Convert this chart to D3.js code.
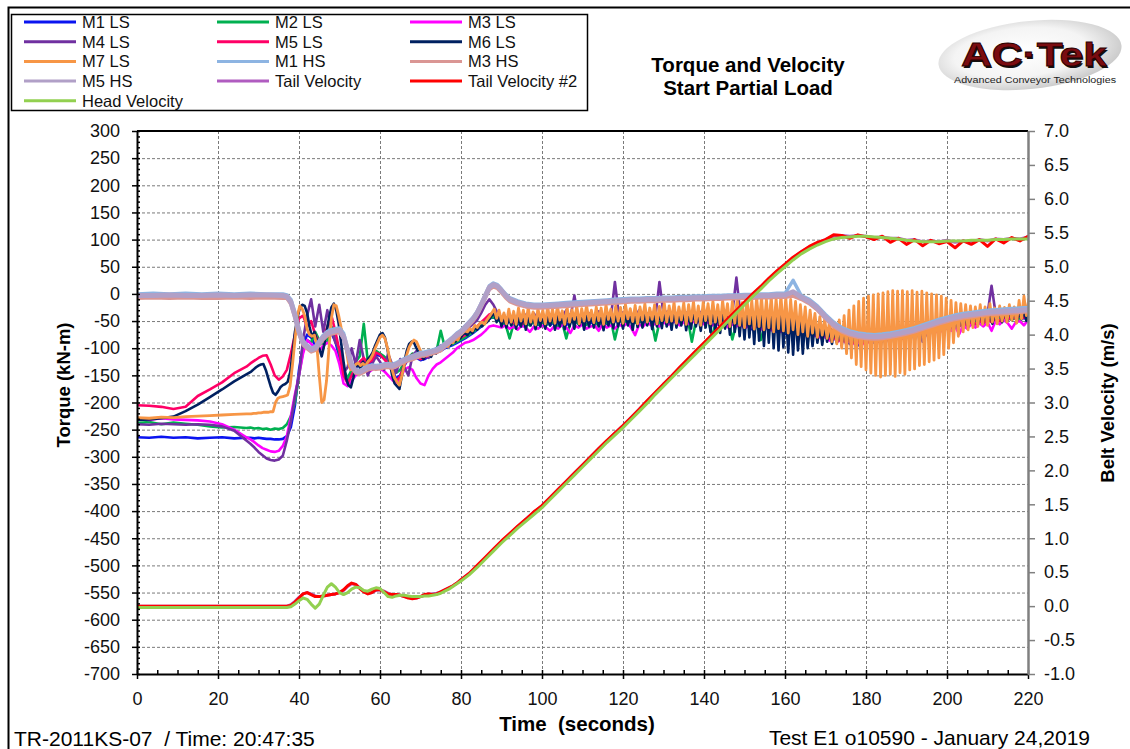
<!DOCTYPE html>
<html>
<head>
<meta charset="utf-8">
<script src="https://cdn.jsdelivr.net/npm/d3@7"></script>
<style>
  body { margin: 0; background: #fff; }
  svg { display: block; font-family: "Liberation Sans", Arial, sans-serif; }
</style>
</head>
<body>
<script>
// ---------- time bases (seconds) ----------
const tPre = [0, 3, 6, 9, 12, 15, 18, 21, 24, 27]
const tLS = tPre.concat(d3.range(28, 220.1, 1))
const tFast = tPre.concat(d3.range(28.2, 220.21, 0.6))
const tHS = [0, 4, 8, 12, 16, 20, 24, 28, 32, 36].concat(d3.range(37, 92, 1), d3.range(92, 220.1, 2))
const tVel = [0, 10, 20, 30, 36].concat(d3.range(37, 80, 1), d3.range(80, 220.1, 2))

// ---------- torque, low speed shafts (kN-m) ----------
const m1LS = [-264,-265,-263,-265,-264,-266,-265,-264,-266,-265,
  -265,-266,-265,-266,-267,-267,-268,-268,-267,-262,
  -245,-205,-140,-95,-75,-80,-95,-90,-85,-80,
  -72,-88,-118,-148,-160,-150,-136,-128,-122,-130,
  -126,-112,-114,-118,-126,-140,-156,-150,-132,-120,
  -116,-118,-122,-120,-115,-110,-108,-105,-100,-97,
  -94,-90,-86,-82,-77,-72,-66,-60,-52,-46,
  -42,-46,-52,-56,-50,-58,-54,-60,-52,-57,
  -50,-57,-53,-49,-58,-51,-55,-48,-57,-52,
  -47,-55,-50,-46,-54,-49,-52,-45,-55,-48,
  -51,-44,-53,-47,-50,-43,-52,-46,-49,-42,
  -51,-45,-48,-42,-50,-44,-47,-41,-50,-45,
  -47,-42,-52,-46,-50,-44,-55,-48,-56,-50,
  -58,-52,-62,-55,-66,-58,-64,-55,-68,-60,
  -70,-62,-74,-65,-72,-62,-70,-66,-72,-70,
  -75,-72,-80,-76,-84,-78,-88,-82,-92,-85,
  -95,-86,-92,-84,-90,-80,-88,-78,-85,-76,
  -82,-74,-80,-70,-76,-68,-88,-72,-66,-70,
  -62,-66,-58,-62,-55,-60,-52,-57,-50,-55,
  -48,-53,-46,-50,-44,-49,-43,-48,-42,-46,
  -41,-45,-40]

const m2LS = [-238,-236,-240,-237,-239,-241,-244,-246,-245,-247,
  -246,-248,-247,-249,-248,-250,-248,-249,-247,-240,
  -225,-200,-150,-105,-85,-90,-70,-85,-95,-88,
  -60,-80,-110,-140,-155,-140,-125,-115,-55,-125,
  -120,-105,-110,-115,-122,-135,-145,-140,-125,-118,
  -110,-112,-118,-116,-110,-106,-104,-68,-98,-95,
  -92,-88,-84,-80,-75,-70,-64,-58,-50,-45,
  -42,-48,-52,-56,-82,-55,-50,-57,-52,-58,
  -50,-56,-52,-58,-49,-55,-60,-53,-82,-52,
  -48,-55,-50,-57,-47,-53,-58,-50,-54,-48,
  -84,-52,-46,-55,-49,-53,-47,-56,-50,-48,
  -86,-52,-47,-55,-49,-44,-53,-48,-46,-88,
  -50,-45,-53,-47,-78,-50,-46,-52,-48,-84,
  -55,-50,-58,-53,-60,-55,-85,-58,-62,-56,
  -66,-60,-70,-64,-68,-62,-72,-66,-70,-68,
  -74,-70,-78,-74,-82,-76,-86,-80,-88,-84,
  -90,-84,-88,-82,-86,-80,-84,-78,-82,-76,
  -80,-74,-76,-70,-74,-66,-70,-64,-66,-62,
  -64,-60,-62,-56,-60,-54,-58,-52,-56,-50,
  -54,-48,-52,-47,-50,-45,-49,-44,-48,-43,
  -46,-42,-44]

const m3LS = [-230,-232,-229,-231,-232,-233,-235,-240,-250,-264,
  -268,-273,-279,-284,-287,-290,-291,-289,-280,-262,
  -225,-185,-150,-110,-85,-92,-100,-105,-95,-90,
  -95,-105,-130,-165,-170,-160,-150,-145,-140,-145,
  -140,-135,-138,-142,-150,-158,-165,-155,-140,-135,
  -140,-155,-165,-168,-150,-138,-130,-126,-120,-114,
  -108,-100,-95,-90,-88,-85,-80,-75,-68,-60,
  -58,-60,-62,-58,-64,-60,-66,-58,-62,-70,
  -60,-64,-58,-62,-68,-60,-64,-57,-62,-72,
  -58,-62,-56,-64,-60,-58,-68,-55,-62,-58,
  -64,-56,-60,-54,-62,-76,-56,-60,-52,-58,
  -55,-60,-52,-57,-54,-50,-58,-52,-56,-50,
  -54,-49,-56,-52,-58,-54,-60,-55,-62,-56,
  -60,-55,-64,-58,-62,-56,-66,-60,-64,-68,
  -62,-70,-66,-72,-68,-74,-70,-76,-72,-78,
  -76,-82,-78,-86,-80,-88,-84,-90,-86,-92,
  -88,-94,-86,-90,-84,-88,-82,-86,-78,-84,
  -76,-82,-74,-78,-70,-76,-68,-74,-66,-72,
  -64,-70,-62,-68,-60,-74,-58,-64,-56,-62,
  -54,-60,-52,-68,-50,-56,-48,-54,-64,-52,
  -50,-58,-48]

const m4LS = [-240,-241,-239,-240,-241,-240,-241,-244,-252,-270,
  -276,-283,-291,-297,-303,-306,-307,-305,-298,-270,
  -235,-190,-150,-85,-40,-10,-60,-20,-70,-30,
  -65,-90,-100,-145,-135,-100,-130,-85,-120,-150,
  -130,-115,-125,-140,-110,-130,-145,-120,-135,-150,
  -115,-105,-120,-110,-118,-105,-100,-95,-98,-90,
  -85,-80,-75,-70,-62,-55,-48,-35,-20,-10,
  -20,-35,-45,-50,-42,-48,-40,-46,-38,-44,
  -36,-48,-40,-45,-38,-46,-34,-42,-30,-44,
  -3,-46,-36,-42,-35,-45,-32,-40,-38,-44,
  22,-40,-34,-44,-36,-42,-30,-40,-36,-35,
  -42,22,-38,-32,-44,-35,-40,-30,-38,-34,
  -40,-33,-38,-28,-42,-34,-36,-30,-40,-35,
  30,-38,-42,-34,-46,-40,-36,-44,-38,-42,
  -45,-40,-48,-44,-52,-46,-56,-50,-60,-55,
  -62,-58,-66,-62,-70,-66,-74,-70,-78,-72,
  -80,-74,-78,-72,-76,-70,-74,-68,-72,-64,
  -68,-60,-64,-58,-62,-55,-58,-52,-56,-50,
  -54,-48,-52,-46,-50,-44,-45,-46,-42,-48,
  -40,-46,-38,15,-36,-42,-35,-40,-34,-38,
  -32,-36,-30]

const m5LS = [-205,-206,-208,-212,-208,-188,-176,-163,-146,-134,
  -128,-123,-118,-114,-113,-130,-150,-158,-152,-140,
  -110,-75,-45,-40,-60,-50,-75,-90,-85,-60,
  -40,-70,-105,-150,-165,-150,-135,-125,-118,-128,
  -122,-108,-112,-120,-128,-142,-160,-152,-130,-118,
  -112,-115,-120,-118,-112,-108,-104,-100,-96,-92,
  -88,-84,-80,-76,-70,-65,-60,-52,-45,-38,
  -35,-40,-48,-52,-46,-54,-48,-56,-46,-52,
  -44,-50,-46,-53,-44,-50,-42,-49,-45,-52,
  -42,-48,-44,-50,-41,-47,-43,-50,-40,-46,
  -42,-48,-40,-46,-39,-45,-42,-48,-38,-44,
  -40,-46,-38,-44,-37,-43,-40,-46,-36,-42,
  -38,-44,-36,-42,-40,-46,-38,-48,-42,-50,
  -46,-54,-48,-58,-52,-60,-55,-64,-58,-66,
  -62,-68,-64,-70,-66,-72,-68,-74,-70,-76,
  -72,-78,-76,-82,-80,-86,-82,-88,-84,-90,
  -86,-92,-84,-90,-82,-88,-80,-86,-78,-84,
  -76,-82,-72,-78,-68,-74,-66,-72,-62,-68,
  -60,-65,-57,-62,-54,-60,-52,-58,-50,-56,
  -48,-54,-46,-52,-44,-50,-42,-48,-40,-46,
  -40,-44,-38]

// M6 / M7 sampled every 0.6 s after 28 s
const m6LS = [-232,-231,-229,-226,-216,-204,-190,-176,-161,-148,
  -143,-139,-135,-132,-130,-129,-140,-155,-170,-182,
  -186,-180,-172,-168,-166,-162,-145,-110,-70,-45,
  -25,-20,-22,-35,-60,-80,-70,-85,-100,-115,
  -95,-70,-45,-25,-18,-30,-55,-90,-125,-155,
  -168,-172,-155,-135,-130,-138,-125,-135,-120,-115,
  -108,-95,-85,-75,-72,-80,-100,-125,-150,-165,
  -170,-175,-150,-125,-105,-92,-88,-90,-100,-108,
  -115,-120,-112,-108,-116,-106,-110,-100,-104,-96,
  -98,-92,-94,-86,-88,-80,-82,-75,-72,-76,
  -68,-72,-62,-66,-58,-60,-55,-52,-46,-40,
  -35,-52,-40,-60,-38,-62,-42,-58,-36,-64,
  -40,-60,-35,-66,-42,-58,-37,-65,-40,-60,
  -36,-64,-42,-58,-34,-66,-40,-60,-38,-65,
  -35,-60,-40,-64,-33,-58,-41,-66,-36,-60,
  -38,-62,-34,-60,-40,-67,-35,-58,-39,-63,
  -33,-60,-38,-64,-32,-58,-40,-66,-35,-61,
  -30,-62,-36,-58,-32,-65,-38,-60,-31,-63,
  -28,-60,-34,-66,-30,-62,-36,-58,-29,-67,
  -32,-64,-27,-60,-35,-68,-30,-62,-28,-70,
  -25,-66,-32,-72,-26,-64,-30,-75,-24,-70,
  -22,-78,-28,-84,-20,-80,-26,-92,-18,-86,
  -20,-96,-25,-90,-18,-100,-24,-104,-22,-98,
  -28,-108,-30,-112,-35,-104,-40,-110,-45,-100,
  -48,-96,-52,-90,-55,-94,-58,-88,-62,-92,
  -64,-90,-62,-95,-60,-98,-58,-100,-56,-102,
  -55,-104,-54,-100,-56,-102,-58,-98,-55,-100,
  -57,-96,-56,-98,-60,-94,-58,-96,-62,-92,
  -60,-90,-62,-88,-58,-86,-60,-84,-56,-82,
  -54,-80,-52,-76,-50,-74,-48,-70,-46,-68,
  -44,-66,-42,-62,-40,-60,-38,-58,-36,-56,
  -34,-54,-36,-52,-32,-55,-34,-50,-30,-52,
  -32,-50,-30,-48,-28,-52,-31,-47,-29,-50,
  -30]

const m7LS = [-228,-229,-227,-228,-226,-225,-224,-223,-222,-221,
  -221,-220,-220,-219,-219,-218,-218,-218,-217,-217,
  -200,-192,-190,-189,-188,-186,-170,-130,-85,-40,
  -22,-28,-40,-65,-75,-78,-76,-95,-150,-200,
  -195,-160,-100,-45,-20,-22,-40,-62,-80,-100,
  -128,-140,-136,-130,-127,-132,-128,-133,-125,-120,
  -112,-100,-90,-80,-76,-82,-98,-120,-140,-155,
  -162,-168,-150,-130,-112,-98,-90,-85,-88,-98,
  -108,-115,-110,-105,-112,-104,-108,-102,-105,-98,
  -94,-97,-88,-90,-82,-85,-76,-72,-68,-70,
  -64,-68,-58,-62,-55,-52,-56,-48,-42,-35,
  -28,-45,-30,-50,-35,-55,-28,-52,-32,-56,
  -26,-50,-30,-55,-25,-52,-33,-57,-27,-49,
  -30,-55,-24,-50,-28,-54,-22,-48,-31,-56,
  -25,-52,-29,-47,-23,-55,-27,-50,-21,-48,
  -30,-53,-24,-49,-26,-56,-20,-47,-28,-52,
  -22,-50,-25,-54,-19,-46,-27,-51,-21,-55,
  -24,-48,-18,-52,-26,-47,-20,-55,-23,-49,
  -17,-52,-22,-50,-15,-54,-24,-48,-16,-56,
  -20,-50,-14,-53,-22,-58,-15,-49,-18,-55,
  -13,-52,-20,-57,-12,-50,-18,-60,-14,-54,
  -10,-58,-16,-62,-8,-55,-12,-65,-6,-60,
  -5,-66,-10,-62,-4,-70,-8,-64,-2,-68,
  -6,-72,-10,-66,-14,-75,-20,-70,-24,-78,
  -30,-72,-36,-80,-42,-76,-46,-82,-50,-88,
  -52,-92,-48,-100,-40,-110,-30,-118,-22,-130,
  -14,-134,-8,-140,-4,-146,-2,-150,0,-153,
  2,-150,4,-148,6,-152,5,-145,6,-148,
  4,-140,6,-138,3,-132,5,-130,2,-125,
  0,-122,-2,-118,-4,-112,-8,-100,-12,-90,
  -16,-78,-18,-70,-20,-66,-22,-62,-24,-60,
  -20,-56,-24,-58,-18,-52,-26,-55,-22,-50,
  -25,-52,-20,-48,-24,-54,-12,-46,-4,-40,
  -10]

// ---------- torque, high speed shafts (kN-m) ----------
const m1HS = [0,1,0,1,0,1,0,1,0,0,
  -2,-10,-34,-64,-86,-94,-100,-97,-86,-76,
  -69,-66,-64,-63,-72,-100,-128,-139,-141,-137,
  -133,-131,-132,-131,-129,-128,-130,-127,-123,-119,
  -116,-114,-111,-108,-107,-105,-103,-101,-97,-91,
  -85,-79,-72,-67,-59,-51,-43,-32,-17,-1,
  15,20,17,9,0,
  -7,-13,-17,-19,-19,-18,-17,-16,-15,-14,
  -13,-12,-11,-10,-9,-8,-8,-7,-7,-6,
  -6,-5,-5,-4,-4,-3,-3,-2,-2,-1,
  -1,0,0,1,1,25,-3,-10,-22,-38,
  -52,-62,-68,-72,-74,-75,-74,-72,-69,-66,
  -62,-57,-52,-47,-43,-39,-36,-34,-32,-30,
  -29,-28,-27,-26,-25]

const m3HS = [-8,-7,-8,-7,-8,-8,-7,-8,-7,-8,
  -8,-19,-44,-74,-94,-101,-107,-104,-94,-84,
  -77,-74,-72,-71,-82,-109,-136,-146,-148,-144,
  -140,-138,-139,-138,-136,-135,-137,-134,-130,-126,
  -123,-121,-118,-115,-114,-112,-110,-108,-104,-98,
  -92,-86,-79,-74,-66,-58,-50,-39,-24,-8,
  8,13,10,2,-7,
  -14,-20,-24,-26,-26,-25,-24,-23,-22,-21,
  -20,-19,-18,-17,-16,-15,-15,-14,-14,-13,
  -13,-12,-12,-11,-11,-10,-10,-9,-9,-8,
  -8,-7,-7,-6,-6,-4,-10,-18,-30,-46,
  -60,-70,-76,-80,-82,-83,-82,-80,-77,-74,
  -70,-65,-60,-55,-51,-47,-44,-42,-40,-38,
  -37,-36,-35,-34,-33]

const m5HS = [-3,-3,-2,-3,-3,-2,-3,-2,-2,-3,
  -5,-15,-40,-70,-90,-97,-103,-100,-90,-80,
  -73,-70,-68,-67,-78,-105,-132,-142,-144,-140,
  -136,-134,-135,-134,-132,-131,-133,-130,-126,-122,
  -119,-117,-114,-111,-110,-108,-106,-104,-100,-94,
  -88,-82,-75,-70,-62,-54,-46,-35,-20,-4,
  12,17,14,6,-3,
  -10,-16,-20,-22,-22,-21,-20,-19,-18,-17,
  -16,-15,-14,-13,-12,-11,-11,-10,-10,-9,
  -9,-8,-8,-7,-7,-6,-6,-5,-5,-4,
  -4,-3,-3,-2,-2,4,-6,-14,-26,-42,
  -56,-66,-72,-76,-78,-79,-78,-76,-73,-70,
  -66,-61,-56,-51,-47,-43,-40,-38,-36,-34,
  -33,-32,-31,-30,-29]

// ---------- belt velocity (m/s) ----------
const tailVel = [0,0,0,0,0,
  0,0.02,0.07,0.13,0.18,0.2,0.18,0.15,0.14,0.15,
  0.16,0.17,0.18,0.2,0.23,0.29,0.33,0.32,0.27,0.22,
  0.19,0.2,0.23,0.24,0.22,0.19,0.17,0.17,0.16,0.14,
  0.13,0.12,0.12,0.14,0.16,0.18,0.18,0.19,0.21,0.24,
  0.27,0.3,0.34,
  0.39,0.48,0.59,0.71,0.83,0.95,1.06,1.17,1.28,1.38,
  1.48,1.6,1.72,1.84,1.96,2.08,2.2,2.32,2.43,2.55,
  2.66,2.78,2.9,3.02,3.14,3.27,3.39,3.51,3.63,3.75,
  3.87,3.99,4.11,4.23,4.35,4.47,4.59,4.7,4.82,4.93,
  5.03,5.13,5.22,5.29,5.35,5.4,5.45,5.46,5.45,5.46,
  5.45,5.43,5.44,5.42,5.42,5.39,5.4,5.37,5.38,5.37,
  5.39,5.36,5.38,5.37,5.4,5.38,5.41,5.4,5.42,5.41,
  5.44]

const tailVel2 = [0,0,0,0,0,
  0,0.01,0.06,0.12,0.18,0.2,0.17,0.14,0.14,0.15,
  0.16,0.17,0.18,0.2,0.24,0.3,0.34,0.32,0.26,0.21,
  0.18,0.2,0.24,0.24,0.21,0.18,0.17,0.17,0.16,0.14,
  0.12,0.11,0.12,0.14,0.17,0.18,0.17,0.18,0.21,0.24,
  0.27,0.3,0.34,
  0.39,0.48,0.6,0.72,0.84,0.96,1.07,1.18,1.28,1.39,
  1.48,1.6,1.72,1.84,1.96,2.08,2.2,2.32,2.44,2.55,
  2.66,2.78,2.9,3.03,3.15,3.27,3.39,3.52,3.64,3.76,
  3.88,4.0,4.12,4.24,4.36,4.48,4.6,4.71,4.83,4.94,
  5.04,5.14,5.22,5.3,5.36,5.4,5.47,5.46,5.42,5.47,
  5.44,5.4,5.45,5.36,5.42,5.33,5.4,5.31,5.39,5.34,
  5.37,5.28,5.38,5.33,5.4,5.3,5.41,5.35,5.43,5.38,
  5.45]

const headVel = [-0.02,-0.02,-0.02,-0.02,-0.02,
  -0.02,-0.01,0.03,0.08,0.12,0.1,0.03,-0.03,0.03,0.16,
  0.28,0.33,0.28,0.2,0.17,0.2,0.25,0.28,0.27,0.23,
  0.22,0.25,0.27,0.26,0.2,0.14,0.13,0.15,0.16,0.16,
  0.15,0.14,0.14,0.14,0.15,0.15,0.16,0.17,0.19,0.22,
  0.25,0.29,0.33,
  0.37,0.46,0.57,0.69,0.81,0.93,1.04,1.15,1.25,1.35,
  1.45,1.57,1.69,1.81,1.93,2.05,2.17,2.29,2.41,2.52,
  2.63,2.75,2.87,2.99,3.12,3.24,3.36,3.48,3.6,3.72,
  3.84,3.96,4.08,4.2,4.32,4.44,4.56,4.67,4.79,4.9,
  5.0,5.1,5.19,5.26,5.32,5.37,5.41,5.43,5.44,5.45,
  5.45,5.44,5.43,5.42,5.41,5.39,5.38,5.37,5.37,5.37,
  5.38,5.38,5.38,5.39,5.39,5.39,5.4,5.4,5.41,5.41,
  5.41]

// ---------- ticks ----------
const xTicks = [0, 20, 40, 60, 80, 100, 120, 140, 160, 180, 200, 220]
const torqueTicks = d3.range(-700, 301, 50)
const velTicks = d3.range(-1, 7.01, 0.5)

// ---------- series (legend order = draw order) ----------
const series = [
  { name: "M1 LS", color: "#0a14f0", w: 2.6, t: tLS, v: m1LS, axis: "T" },
  { name: "M2 LS", color: "#00b050", w: 2.6, t: tLS, v: m2LS, axis: "T" },
  { name: "M3 LS", color: "#ff00ff", w: 2.6, t: tLS, v: m3LS, axis: "T" },
  { name: "M4 LS", color: "#7030a0", w: 2.6, t: tLS, v: m4LS, axis: "T" },
  { name: "M5 LS", color: "#ff0066", w: 2.6, t: tLS, v: m5LS, axis: "T" },
  { name: "M6 LS", color: "#002060", w: 2.6, t: tFast, v: m6LS, axis: "T" },
  { name: "M7 LS", color: "#f79646", w: 2.8, t: tFast, v: m7LS, axis: "T" },
  { name: "M1 HS", color: "#8db4e2", w: 3.5, t: tHS, v: m1HS, axis: "T" },
  { name: "M3 HS", color: "#da9694", w: 3.5, t: tHS, v: m3HS, axis: "T" },
  { name: "M5 HS", color: "#b1a0c7", w: 5, t: tHS, v: m5HS, axis: "T" },
  { name: "Tail Velocity", color: "#b05cc0", w: 3, t: tVel, v: tailVel, axis: "V" },
  { name: "Tail Velocity #2", color: "#ff0000", w: 3, t: tVel, v: tailVel2, axis: "V" },
  { name: "Head Velocity", color: "#92d050", w: 3, t: tVel, v: headVel, axis: "V" }
]

const W = 1130, H = 749
const plotL = 137, plotR = 1028, plotT = 131, plotB = 674

const svg = d3.select("body").append("svg")
  .attr("width", W)
  .attr("height", H)

const x = d3.scaleLinear().domain([0, 220]).range([plotL, plotR])
const yT = d3.scaleLinear().domain([-700, 300]).range([plotB, plotT])
const yV = d3.scaleLinear().domain([-1, 7]).range([plotB, plotT])

// outer frame + legend box
svg.append("rect").attr("x", 8.5).attr("y", 7.5).attr("width", 1140).attr("height", 760)
  .attr("fill", "none").attr("stroke", "#000").attr("stroke-width", 2)
svg.append("rect").attr("x", 11.5).attr("y", 14.5).attr("width", 576).attr("height", 96)
  .attr("fill", "#fff").attr("stroke", "#000").attr("stroke-width", 1.5)

// gridlines
const grid = svg.append("g").attr("class", "grid")
grid.append("g").attr("transform", `translate(${plotL},0)`)
  .call(d3.axisLeft(yT).tickValues(torqueTicks.filter(d => d > -700 && d < 300)).tickSize(-(plotR - plotL)).tickFormat(""))
grid.append("g").attr("transform", `translate(0,${plotB})`)
  .call(d3.axisBottom(x).tickValues(xTicks.filter(d => d > 0 && d < 220)).tickSize(-(plotB - plotT)).tickFormat(""))
grid.selectAll(".domain").remove()
grid.selectAll("line").attr("stroke", "#7a7a7a").attr("stroke-width", 1).attr("stroke-dasharray", "3,2")

// data lines
svg.append("clipPath").attr("id", "plot").append("rect")
  .attr("x", plotL).attr("y", plotT).attr("width", plotR - plotL).attr("height", plotB - plotT)

const plot = svg.append("g").attr("clip-path", "url(#plot)")
series.forEach(s => {
  const yS = s.axis === "T" ? yT : yV
  const pts = s.t.map((tt, i) => [tt, s.v[i]]).filter(d => d[1] !== undefined)
  const line = d3.line().x(d => x(d[0])).y(d => yS(d[1]))
  plot.append("path")
    .datum(pts)
    .attr("d", line)
    .attr("fill", "none")
    .attr("stroke", s.color)
    .attr("stroke-width", s.w)
    .attr("stroke-linejoin", "round")
    .attr("stroke-linecap", "round")
})

// top frame line
svg.append("line").attr("x1", plotL).attr("x2", plotR).attr("y1", plotT).attr("y2", plotT)
  .attr("stroke", "#000").attr("stroke-width", 2)

// axes
const tickFont = g => g.selectAll("text").attr("font-size", 18).attr("fill", "#111")
  .attr("font-family", "Liberation Sans, Arial, sans-serif")
const blackAxis = g => {
  g.select(".domain").attr("stroke", "#000").attr("stroke-width", 2)
  g.selectAll(".tick line").attr("stroke", "#000").attr("stroke-width", 1.5)
}

svg.append("g").attr("transform", `translate(${plotL},0)`)
  .call(d3.axisRight(yT).tickValues(d3.range(-700, 301, 10)).tickSize(3).tickSizeOuter(0).tickFormat(""))
  .call(g => g.select(".domain").remove())
  .call(blackAxis)
svg.append("g").attr("transform", `translate(0,${plotB})`)
  .call(d3.axisTop(x).tickValues(d3.range(0, 221, 5)).tickSize(4).tickSizeOuter(0).tickFormat(""))
  .call(g => g.select(".domain").remove())
  .call(blackAxis)

svg.append("g").attr("transform", `translate(${plotL},0)`)
  .call(d3.axisLeft(yT).tickValues(torqueTicks).tickSize(5).tickSizeOuter(0).tickPadding(12).tickFormat(d => String(d)))
  .call(tickFont)
  .call(blackAxis)

svg.append("g").attr("transform", `translate(0,${plotB})`)
  .call(d3.axisBottom(x).tickValues(xTicks).tickSize(5).tickSizeOuter(0).tickPadding(13).tickFormat(d => String(d)))
  .call(tickFont)
  .call(blackAxis)

const yAxisR = svg.append("g").attr("transform", `translate(${plotR},0)`)
  .call(d3.axisRight(yV).tickValues(velTicks).tickSize(7).tickSizeOuter(0).tickPadding(9).tickFormat(d => d.toFixed(1)))
  .call(tickFont)
yAxisR.selectAll(".tick line").attr("stroke", "#808080").attr("stroke-width", 1.5)
yAxisR.select(".domain").attr("stroke", "#808080").attr("stroke-width", 2.5)

// axis titles
svg.append("text").attr("transform", "translate(70,385) rotate(-90)")
  .attr("text-anchor", "middle").attr("font-size", 18.5).attr("font-weight", "bold")
  .text("Torque (kN-m)")
svg.append("text").attr("transform", "translate(1114,403) rotate(-90)")
  .attr("text-anchor", "middle").attr("font-size", 18.5).attr("font-weight", "bold")
  .text("Belt Velocity (m/s)")
svg.append("text").attr("x", 577).attr("y", 731)
  .attr("text-anchor", "middle").attr("font-size", 20.5).attr("font-weight", "bold")
  .style("white-space", "pre")
  .text("Time  (seconds)")

// title
svg.append("text").attr("x", 748).attr("y", 72).attr("text-anchor", "middle")
  .attr("font-size", 20.5).attr("font-weight", "bold").text("Torque and Velocity")
svg.append("text").attr("x", 748).attr("y", 95).attr("text-anchor", "middle")
  .attr("font-size", 20.5).attr("font-weight", "bold").text("Start Partial Load")

// footer
svg.append("text").attr("x", 14).attr("y", 746).attr("font-size", 21)
  .style("white-space", "pre").text("TR-2011KS-07  / Time: 20:47:35")
svg.append("text").attr("x", 1090).attr("y", 745).attr("text-anchor", "end").attr("font-size", 21)
  .text("Test E1 o10590 - January 24,2019")

// legend
const legend = svg.append("g").attr("id", "legend")
const colX = [24, 217, 410]
series.forEach((s, i) => {
  const cx = colX[i % 3]
  const cy = 22 + Math.floor(i / 3) * 19.7
  legend.append("line").attr("x1", cx).attr("x2", cx + 52).attr("y1", cy).attr("y2", cy)
    .attr("stroke", s.color).attr("stroke-width", 3)
  legend.append("text").attr("x", cx + 58).attr("y", cy + 6).attr("font-size", 16.5)
    .attr("fill", "#111").text(s.name)
})

// logo
const defs = svg.append("defs")
const grad = defs.append("radialGradient").attr("id", "swoosh").attr("cx", "45%").attr("cy", "45%").attr("r", "60%")
grad.append("stop").attr("offset", "0%").attr("stop-color", "#ffffff")
grad.append("stop").attr("offset", "60%").attr("stop-color", "#f4f4f4")
grad.append("stop").attr("offset", "100%").attr("stop-color", "#c4c4c4")
const logo = svg.append("g")
logo.append("ellipse").attr("cx", 1030).attr("cy", 55).attr("rx", 92).attr("ry", 34)
  .attr("transform", "rotate(-6 1030 55)").attr("fill", "url(#swoosh)")
logo.append("text").attr("x", 962.5).attr("y", 67.5).attr("font-size", 33).attr("font-weight", "bold")
  .attr("textLength", 146).attr("lengthAdjust", "spacingAndGlyphs")
  .attr("fill", "#111").text("AC·Tek")
logo.append("text").attr("x", 961).attr("y", 66).attr("font-size", 33).attr("font-weight", "bold")
  .attr("textLength", 146).attr("lengthAdjust", "spacingAndGlyphs")
  .attr("fill", "#7a0c10").attr("stroke", "#2a0000").attr("stroke-width", 0.8)
  .text("AC·Tek")
logo.append("text").attr("x", 954).attr("y", 83).attr("font-size", 8.5)
  .attr("textLength", 162).attr("lengthAdjust", "spacingAndGlyphs")
  .attr("fill", "#222").text("Advanced Conveyor Technologies")
</script>
</body>
</html>
